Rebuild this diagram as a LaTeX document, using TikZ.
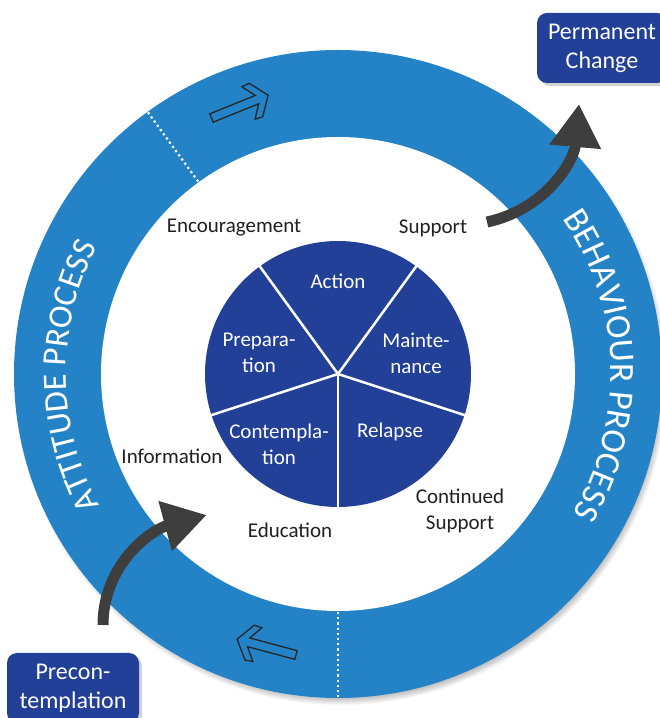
\documentclass[tikz,border=0pt]{standalone}
\usepackage{fontspec}
\setmainfont{Carlito}
\usetikzlibrary{arrows.meta,decorations.text,shadows,calc}
\definecolor{ringblue}{RGB}{35,131,198}
\definecolor{pieblue}{RGB}{35,64,153}
\definecolor{arrowgray}{RGB}{62,62,62}
\definecolor{labeltext}{RGB}{35,31,32}
\begin{document}
\begin{tikzpicture}[x=1pt,y=1pt,
  lbl/.style={text=labeltext, font=\fontsize{21}{26}\selectfont, align=center, inner sep=0pt},
  pielbl/.style={text=white, font=\fontsize{21}{26}\selectfont, align=center, inner sep=0pt},
  stagebox/.style={fill=pieblue, rounded corners=10pt, text=white, font=\fontsize{24}{29}\selectfont, align=center, minimum width=130pt, minimum height=70pt, inner sep=0pt, drop shadow={opacity=0.35, shadow xshift=3pt, shadow yshift=-3pt}},
  divider/.style={white, line width=2.2pt, dash pattern=on 2.2pt off 3pt},
  pieline/.style={white, line width=2.5pt},
  bigarrow/.style={arrowgray, line width=11pt, -{Triangle[width=49pt,length=43pt]}},
  hollow/.style={black!85, line width=1.3pt, line join=miter},
  hollowarrow/.pic={\draw[hollow] (0,4.5) -- (49,4.5) -- (40,17.5) -- (48,18) -- (61,0) -- (48,-18) -- (40,-17.5) -- (49,-4.5) -- (0,-4.5) -- cycle;},
]
\useasboundingbox (0,0) rectangle (660,718);
\coordinate (C) at (338,344);
% soft shadow of the ring
\foreach \i in {1,...,8}{
  \fill[black, opacity=0.035] ($(C)+(3,-5)$) circle[radius=318+\i];
}
\fill[ringblue] (C) circle[radius=324];
\fill[white] (C) circle[radius=237];
% dotted dividers
\draw[divider] ($(C)+(126:238)$) -- ($(C)+(126:324)$);
\draw[divider] ($(C)+(270:238)$) -- ($(C)+(270:324)$);
% ring texts
\path[decorate, decoration={text along path, text align=center,
  text={|\color{white}\fontsize{34}{34}\selectfont|ATTITUDE PROCESS}}]
  ($(C)+(225:272)$) arc[start angle=225, end angle=136, radius=272];
\path[decorate, decoration={text along path, text align=center,
  text={|\color{white}\fontsize{35.5}{35.5}\selectfont|BEHAVIOUR PROCESS}}]
  ($(C)+(50:273)$) arc[start angle=50, end angle=-46, radius=273];
% hollow arrows on the ring
\pic[rotate=22] at (211.5,600) {hollowarrow};
\pic[rotate=165] at (296,63) {hollowarrow};
% pie
\fill[pieblue] (C) circle[radius=133];
\foreach \a in {-90,-18,54,126,198}{
  \draw[pieline] (C) -- ($(C)+(\a:134)$);
}
\node[pielbl] (action) at (338,437) {Action};
\node[pielbl] (prep) at (259,365) {Prepara-\\tion};
\node[pielbl] (maint) at (416,365) {Mainte-\\nance};
\node[pielbl] (contemp) at (279,274) {Contempla-\\tion};
\node[pielbl] (relapse) at (390,286) {Relapse};
% labels
\node[lbl] (enc) at (234,490) {Encouragement};
\node[lbl] (sup) at (433,490) {Support};
\node[lbl] (info) at (172,262) {Information};
\node[lbl] (edu) at (290,188) {Education};
\node[lbl] (cont) at (460,207) {Continued\\Support};
% boxes
\node[stagebox] (perm) at (602,670) {Permanent\\Change};
\node[stagebox, minimum width=132pt] (precon) at (73,30) {Precon-\\templation};
% big grey arrows
\coordinate (t1) at (487,496);
\coordinate (h1) at (579,614);
\draw[bigarrow] (t1) to[out=12,in=-95] (h1);
\coordinate (t2) at (103,93);
\coordinate (h2) at (206.7,203);
\draw[bigarrow] (t2) to[out=90,in=195] (h2);
\end{tikzpicture}
\end{document}
